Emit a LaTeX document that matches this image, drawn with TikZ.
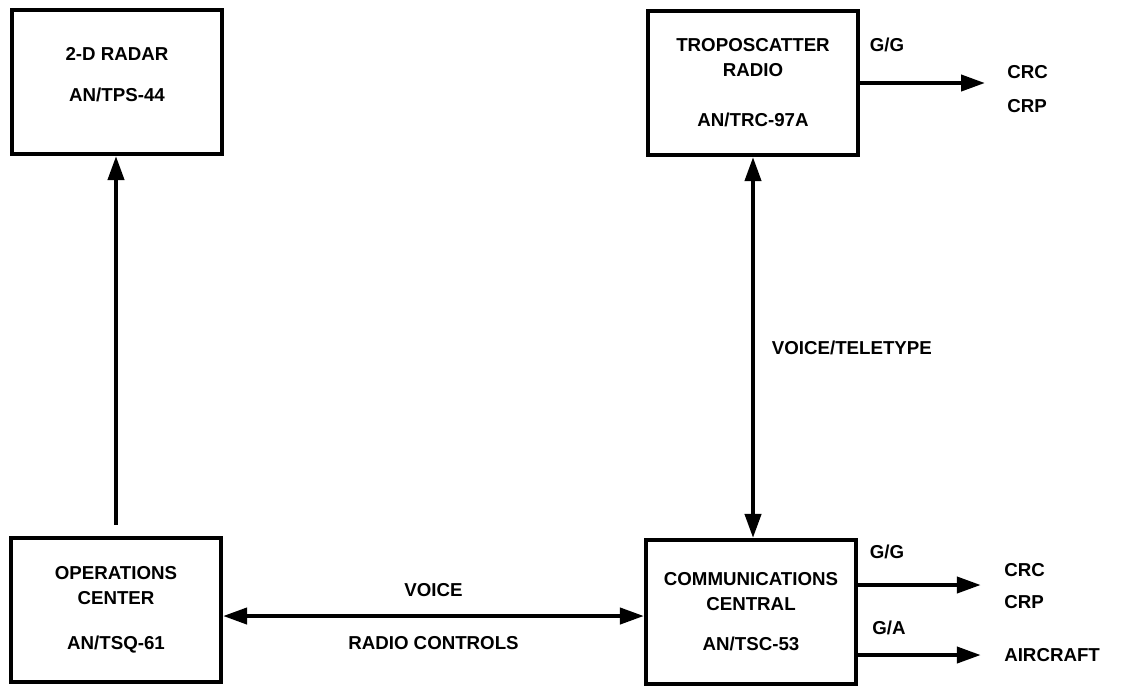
\documentclass[tikz,border=0pt]{standalone}
\usepackage{fontspec}
\setmainfont{Liberation Sans}
\usetikzlibrary{arrows.meta,positioning}

\begin{document}
\begin{tikzpicture}[
    x=0.025cm, y=-0.025cm,
    font=\fontsize{13.3}{17.7}\selectfont\bfseries,
    box/.style={draw, line width=2.9pt, align=center, minimum width=5.25cm, minimum height=3.6cm, inner sep=0pt},
    arrow/.style={-{Triangle[length=0.6cm,width=0.4cm]}, line width=2.9pt},
    biarrow/.style={{Triangle[length=0.6cm,width=0.4cm]}-{Triangle[length=0.6cm,width=0.4cm]}, line width=2.9pt},
    tag/.style={inner sep=0pt, align=left}
]
\useasboundingbox (0,0) rectangle (1123,687);

\node[box] (radar) at (117,82) {2-D RADAR\\[12pt]AN/TPS-44\\[-7pt]\mbox{}};
\node[box] (tropo) at (753,83) {TROPOSCATTER\\RADIO\\[18pt]AN/TRC-97A};
\node[box] (ops) at (116,610) {OPERATIONS\\CENTER\\[14pt]AN/TSQ-61};
\node[box] (comms) at (751,612) {COMMUNICATIONS\\CENTRAL\\[11pt]AN/TSC-53};

% destinations
\node[tag, anchor=west] (tropodest) at (1007,89) {CRC\\[7pt]CRP};
\node[tag, anchor=west] (commsdest) at (1004,586) {CRC\\[5pt]CRP};
\node[tag, anchor=west] (aircraft) at (1004,655) {AIRCRAFT};

\node[tag] (tropogg) at (887,45) {G/G};
\node[tag] (commsgg) at (887,552) {G/G};
\node[tag] (commsga) at (889,628) {G/A};

\draw[arrow, shorten <=0.28cm] (ops.north) -- (ops.north |- radar.south);
\draw[biarrow] (tropo.south) -- (tropo.south |- comms.north)
    node[tag, midway, right=0.42cm] (voicetty) {VOICE/TELETYPE};
\draw[biarrow] ([yshift=-0.15cm]ops.east) -- ([yshift=-0.15cm]ops.east -| comms.west)
    node[tag, midway, yshift=0.65cm] (voice) {VOICE}
    node[tag, midway, yshift=-0.68cm] (radioctl) {RADIO CONTROLS};

\draw[arrow, shorten >=0.55cm] (tropo.east) -- (tropo.east -| tropodest.west);
\draw[arrow, shorten >=0.58cm] ([yshift=0.675cm]comms.east) -- ([yshift=0.675cm]comms.east -| commsdest.west);
\draw[arrow, shorten >=0.58cm] ([yshift=-1.075cm]comms.east) -- ([yshift=-1.075cm]comms.east -| aircraft.west);
\end{tikzpicture}
\end{document}
